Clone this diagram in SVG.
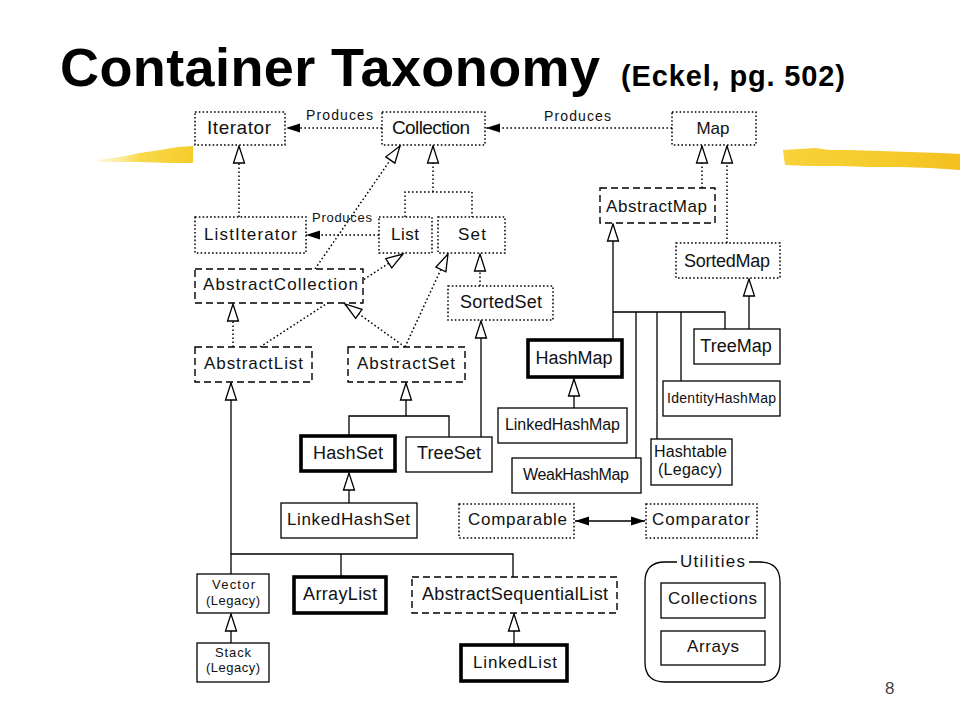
<svg xmlns="http://www.w3.org/2000/svg" width="960" height="720" viewBox="0 0 960 720">
<style>
  text { font-family: "Liberation Sans", Arial, sans-serif; fill: #111; text-anchor: middle; }
  .title { font-weight: bold; text-anchor: start; font-size: 54px; fill: #000; }
  .sub { font-weight: bold; text-anchor: start; font-size: 29px; fill: #000; }
  .pg { font-size: 17px; fill: #444; text-anchor: start; }
  .box { fill: #fff; stroke: #000; stroke-width: 1.3; }
  .dot { stroke-dasharray: 1.6 2.2; stroke-width: 1.5; }
  .dash { stroke-dasharray: 7 4; stroke-width: 1.4; }
  .thick { stroke-width: 3.6; }
  .ln { fill: none; stroke: #000; stroke-width: 1.3; }
  .dl { stroke-dasharray: 1.6 2.4; stroke-width: 1.5; }
  .t19 { font-size: 19px; }
  .t18 { font-size: 18px; }
  .t17 { font-size: 17px; }
  .t16 { font-size: 16px; }
  .t14 { font-size: 14px; }
  .t13 { font-size: 13px; }
</style>
<defs>
  <marker id="tri" viewBox="-19 -8 21 16" refX="0" refY="0" markerWidth="21" markerHeight="16" markerUnits="userSpaceOnUse" orient="auto">
    <path d="M0,0 L-17,-5.5 L-17,5.5 Z" fill="#fff" stroke="#000" stroke-width="1.3" stroke-dasharray="none"/>
  </marker>
  <marker id="arr" viewBox="-16 -6 18 12" refX="0" refY="0" markerWidth="18" markerHeight="12" markerUnits="userSpaceOnUse" orient="auto-start-reverse">
    <path d="M0,0 L-14,-4.5 L-14,4.5 Z" fill="#000" stroke="none"/>
  </marker>
  <linearGradient id="yl" x1="0" y1="0" x2="1" y2="0">
    <stop offset="0" stop-color="#FBE68A" stop-opacity="0.3"/>
    <stop offset="0.45" stop-color="#F9D94C"/>
    <stop offset="1" stop-color="#F5CC2A"/>
  </linearGradient>
  <linearGradient id="yr" x1="0" y1="0" x2="1" y2="0">
    <stop offset="0" stop-color="#F7D23A"/>
    <stop offset="0.7" stop-color="#F5C928"/>
    <stop offset="1" stop-color="#F3C020"/>
  </linearGradient>
</defs>
<rect width="960" height="720" fill="#fff"/>

<!-- decorative brush strokes -->
<path d="M97,160 L120,157 L140,153 L160,150 L178,147 L193,146 L193,163 L170,163 L140,162 L115,162 L98,162 Z" fill="url(#yl)"/>
<path d="M783,150 L800,149 L815,148 L830,150 L850,150 L880,151 L910,152 L940,153 L960,154 L960,170 L930,168 L900,167 L870,167 L840,166 L810,166 L785,165 Z" fill="url(#yr)"/>

<!-- title -->
<text class="title" x="60" y="86" textLength="540">Container Taxonomy</text>
<text class="sub" x="621" y="86" textLength="224">(Eckel, pg. 502)</text>
<text class="pg" x="885" y="694">8</text>

<!-- connectors -->
<g id="connectors">
  <line class="ln dl" x1="382" y1="128" x2="286" y2="128" marker-end="url(#arr)"/>
  <line class="ln dl" x1="672" y1="128" x2="486" y2="128" marker-end="url(#arr)"/>
  <line class="ln dl" x1="379" y1="235" x2="306" y2="235" marker-end="url(#arr)"/>
  <line class="ln dl" x1="239" y1="217" x2="239" y2="146" marker-end="url(#tri)"/>
  <polyline class="ln dl" points="405,217 405,192 472,192 472,217"/>
  <line class="ln dl" x1="433" y1="192" x2="433" y2="146" marker-end="url(#tri)"/>
  <line class="ln dl" x1="315" y1="269" x2="400" y2="146" marker-end="url(#tri)"/>
  <line class="ln dl" x1="260" y1="347" x2="403" y2="254" marker-end="url(#tri)"/>
  <line class="ln dl" x1="233" y1="347" x2="233" y2="304" marker-end="url(#tri)"/>
  <line class="ln dl" x1="405" y1="347" x2="345" y2="304" marker-end="url(#tri)"/>
  <line class="ln dl" x1="405" y1="347" x2="448" y2="254" marker-end="url(#tri)"/>
  <line class="ln dl" x1="480" y1="286" x2="480" y2="254" marker-end="url(#tri)"/>
  <line class="ln" x1="481" y1="437" x2="481" y2="321" marker-end="url(#tri)"/>
  <polyline class="ln" points="349,437 349,416 449,416 449,437"/>
  <line class="ln" x1="406" y1="416" x2="406" y2="383" marker-end="url(#tri)"/>
  <line class="ln" x1="349" y1="503" x2="349" y2="473" marker-end="url(#tri)"/>
  <line class="ln" x1="231" y1="554" x2="231" y2="383" marker-end="url(#tri)"/>
  <polyline class="ln" points="231,574 231,554 513,554 513,577"/>
  <line class="ln" x1="341" y1="554" x2="341" y2="577"/>
  <line class="ln" x1="231" y1="643" x2="231" y2="614" marker-end="url(#tri)"/>
  <line class="ln" x1="514" y1="645" x2="514" y2="614" marker-end="url(#tri)"/>
  <line class="ln dl" x1="702" y1="188" x2="702" y2="146" marker-end="url(#tri)"/>
  <line class="ln dl" x1="727" y1="243" x2="727" y2="146" marker-end="url(#tri)"/>
  <line class="ln" x1="613" y1="340" x2="613" y2="224" marker-end="url(#tri)"/>
  <polyline class="ln" points="613,312 725,312 725,329"/>
  <line class="ln" x1="636" y1="312" x2="636" y2="458"/>
  <line class="ln" x1="657" y1="312" x2="657" y2="439"/>
  <line class="ln" x1="681" y1="312" x2="681" y2="381"/>
  <line class="ln" x1="749" y1="329" x2="749" y2="279" marker-end="url(#tri)"/>
  <line class="ln" x1="574" y1="408" x2="574" y2="379" marker-end="url(#tri)"/>
  <line class="ln" x1="575" y1="521" x2="645" y2="521" marker-start="url(#arr)" marker-end="url(#arr)"/>
  <text class="t14" x="339.5" y="120" textLength="67">Produces</text>
  <text class="t14" x="577.5" y="121" textLength="67">Produces</text>
  <text class="t13" x="342" y="222" textLength="60">Produces</text>
</g>

<!-- nodes -->
<g id="Iterator"><rect class="box dot" x="195" y="112" width="90" height="33"/><text class="t19" x="239" y="134" textLength="64">Iterator</text></g>
<g id="Collection"><rect class="box dot" x="382" y="112" width="103" height="33"/><text class="t19" x="431" y="134" textLength="78">Collection</text></g>
<g id="Map"><rect class="box dot" x="672" y="112" width="84" height="33"/><text class="t17" x="713" y="134">Map</text></g>
<g id="ListIterator"><rect class="box dot" x="195" y="217" width="111" height="36"/><text class="t17" x="250.5" y="240" textLength="93">ListIterator</text></g>
<g id="List"><rect class="box dot" x="379" y="217" width="53" height="36"/><text class="t17" x="405" y="240" textLength="28">List</text></g>
<g id="Set"><rect class="box dot" x="438" y="217" width="67" height="36"/><text class="t17" x="472" y="240" textLength="28">Set</text></g>
<g id="AbstractCollection"><rect class="box dash" x="195" y="269" width="168" height="34"/><text class="t17" x="280.5" y="290" textLength="155">AbstractCollection</text></g>
<g id="SortedSet"><rect class="box dot" x="448" y="286" width="105" height="34"/><text class="t18" x="501" y="308" textLength="82">SortedSet</text></g>
<g id="AbstractMap"><rect class="box dash" x="600" y="188" width="115" height="35"/><text class="t17" x="656.5" y="212" textLength="101">AbstractMap</text></g>
<g id="SortedMap"><rect class="box dot" x="676" y="243" width="104" height="35"/><text class="t18" x="727" y="267" textLength="86">SortedMap</text></g>
<g id="AbstractList"><rect class="box dash" x="195" y="347" width="117" height="35"/><text class="t17" x="253.5" y="369" textLength="99">AbstractList</text></g>
<g id="AbstractSet"><rect class="box dash" x="348" y="347" width="117" height="35"/><text class="t17" x="406" y="369" textLength="98">AbstractSet</text></g>
<g id="HashMap"><rect class="box thick" x="528" y="340" width="94" height="37"/><text class="t18" x="574" y="364">HashMap</text></g>
<g id="TreeMap"><rect class="box" x="694" y="329" width="86" height="35"/><text class="t18" x="736" y="352">TreeMap</text></g>
<g id="IdentityHashMap"><rect class="box" x="663" y="381" width="117" height="35"/><text class="t14" x="721.5" y="403" textLength="109">IdentityHashMap</text></g>
<g id="LinkedHashMap"><rect class="box" x="498" y="408" width="129" height="35"/><text class="t16" x="562.5" y="430" textLength="115">LinkedHashMap</text></g>
<g id="HashSet"><rect class="box thick" x="301" y="436" width="94" height="35"/><text class="t18" x="348" y="459" textLength="70">HashSet</text></g>
<g id="TreeSet"><rect class="box" x="406" y="437" width="86" height="35"/><text class="t18" x="449" y="459" textLength="64">TreeSet</text></g>
<g id="Hashtable"><rect class="box" x="651" y="439" width="81" height="46"/><text class="t16" x="690.5" y="457" textLength="73">Hashtable</text><text class="t16" x="690" y="475" textLength="64">(Legacy)</text></g>
<g id="WeakHashMap"><rect class="box" x="512" y="458" width="129" height="35"/><text class="t16" x="576" y="480" textLength="106">WeakHashMap</text></g>
<g id="LinkedHashSet"><rect class="box" x="281" y="503" width="136" height="35"/><text class="t17" x="348.5" y="525" textLength="123">LinkedHashSet</text></g>
<g id="Comparable"><rect class="box dot" x="459" y="504" width="115" height="34"/><text class="t17" x="517.5" y="525" textLength="99">Comparable</text></g>
<g id="Comparator"><rect class="box dot" x="646" y="504" width="111" height="34"/><text class="t17" x="701" y="525" textLength="98">Comparator</text></g>
<g id="Vector"><rect class="box" x="197" y="574" width="72" height="39"/><text class="t13" x="233.5" y="589" textLength="43">Vector</text><text class="t13" x="233" y="605" textLength="54">(Legacy)</text></g>
<g id="ArrayList"><rect class="box thick" x="294" y="577" width="92" height="36"/><text class="t18" x="340" y="600" textLength="74">ArrayList</text></g>
<g id="AbstractSequentialList"><rect class="box dash" x="412" y="577" width="205" height="36"/><text class="t18" x="515" y="600" textLength="186">AbstractSequentialList</text></g>
<g id="Stack"><rect class="box" x="197" y="643" width="72" height="39"/><text class="t13" x="233" y="657" textLength="36">Stack</text><text class="t13" x="233" y="672" textLength="54">(Legacy)</text></g>
<g id="LinkedList"><rect class="box thick" x="461" y="645" width="106" height="36"/><text class="t17" x="515" y="668" textLength="84">LinkedList</text></g>
<g id="Utilities">
  <path class="ln" stroke-width="1.5" d="M677,562 H665 Q645,562 645,582 V662 Q645,682 665,682 H760 Q780,682 780,662 V582 Q780,562 760,562 H749"/>
  <text class="t17" x="712.5" y="567" textLength="65">Utilities</text>
  <g id="Collections"><rect class="box" x="661" y="583" width="104" height="35"/><text class="t17" x="712.5" y="604" textLength="89">Collections</text></g>
  <g id="Arrays"><rect class="box" x="661" y="631" width="104" height="34"/><text class="t17" x="713" y="652" textLength="52">Arrays</text></g>
</g>
</svg>
